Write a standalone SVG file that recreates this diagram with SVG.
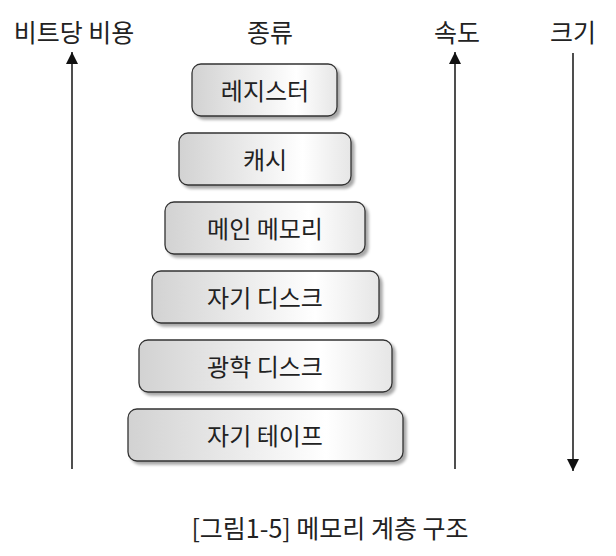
<svg xmlns="http://www.w3.org/2000/svg" width="616" height="556" viewBox="0 0 616 556">
<style>
text{font-family:"Noto Sans CJK KR","Noto Sans",sans-serif;fill:#222;text-anchor:middle}
.h{font-size:25px}
.b{font-size:24px}
.c{font-size:25px}
.box{fill:url(#g);stroke:#333;stroke-width:1.3;filter:url(#sh)}
.ax{stroke:#222;stroke-width:1.6;fill:none}
</style>
<defs>
<linearGradient id="g" x1="0" y1="0" x2="1" y2="0">
<stop offset="0" stop-color="#d2d2d2"/>
<stop offset="0.72" stop-color="#ffffff"/>
<stop offset="1" stop-color="#e6e6e6"/>
</linearGradient>
<filter id="sh" x="-10%" y="-20%" width="130%" height="150%">
<feGaussianBlur in="SourceAlpha" stdDeviation="1.5"/>
<feOffset dx="3" dy="3" result="o"/>
<feComponentTransfer><feFuncA type="linear" slope="0.35"/></feComponentTransfer>
<feMerge><feMergeNode/><feMergeNode in="SourceGraphic"/></feMerge>
</filter>
<marker id="ah" viewBox="0 0 12 12" refX="12" refY="6" markerWidth="12" markerHeight="12" markerUnits="userSpaceOnUse" orient="auto">
<path d="M0,0 L12,6 L0,12 Z" fill="#111"/>
</marker>
</defs>
<g id="headers">
<text class="h" x="74" y="42">비트당 비용</text>
<text class="h" x="270" y="42">종류</text>
<text class="h" x="457" y="42">속도</text>
<text class="h" x="573" y="42">크기</text>
</g>
<g id="connectors">
<line class="ax" x1="72" y1="469" x2="72" y2="52" marker-end="url(#ah)"/>
<line class="ax" x1="455" y1="469" x2="455" y2="52" marker-end="url(#ah)"/>
<line class="ax" x1="573" y1="53" x2="573" y2="471" marker-end="url(#ah)"/>
</g>
<g id="n1"><rect class="box" x="192" y="64" width="145" height="52" rx="9"/><text class="b" x="265" y="100">레지스터</text></g>
<g id="n2"><rect class="box" x="179" y="133" width="172" height="52" rx="9"/><text class="b" x="265" y="169">캐시</text></g>
<g id="n3"><rect class="box" x="165" y="202" width="200" height="52" rx="9"/><text class="b" x="265" y="238">메인 메모리</text></g>
<g id="n4"><rect class="box" x="152" y="271" width="227" height="52" rx="9"/><text class="b" x="265" y="307">자기 디스크</text></g>
<g id="n5"><rect class="box" x="139" y="340" width="253" height="52" rx="9"/><text class="b" x="265" y="376">광학 디스크</text></g>
<g id="n6"><rect class="box" x="128" y="409" width="275" height="52" rx="9"/><text class="b" x="265" y="445">자기 테이프</text></g>
<g id="caption"><text class="c" x="330" y="538">[그림1-5] 메모리 계층 구조</text></g>
</svg>
